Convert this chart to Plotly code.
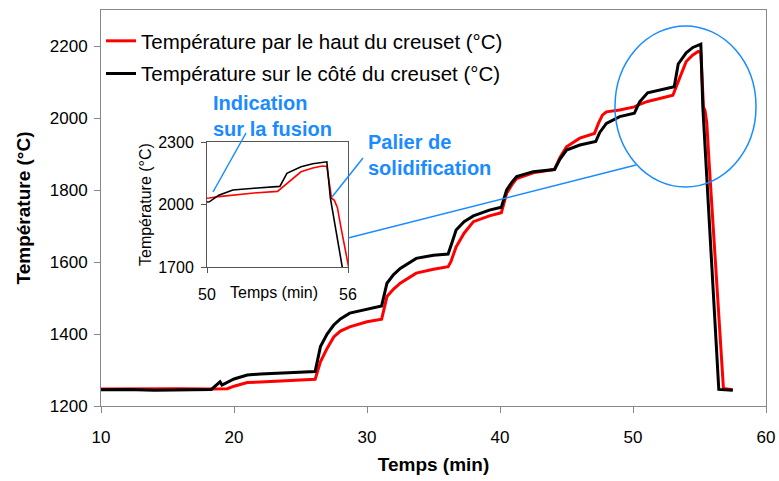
import plotly.graph_objects as go

# ---------------- data ----------------
t_haut = [10, 12, 14, 16, 18, 19.5, 20, 21, 22, 23.5, 25, 26.1, 26.5, 27, 27.5, 28, 28.7, 30, 31.1,
          31.5, 32, 32.5, 33.7, 35, 36.1, 36.3, 36.7, 37.3, 38, 39.2, 40.1, 40.5, 40.9, 41.25, 42.5,
          44.1, 44.5, 45, 46, 47.1, 47.4, 47.7, 48, 49, 50.1, 50.5, 51.1, 52, 53, 53.4, 54, 54.5,
          54.9, 55.1, 55.3, 55.42, 55.55, 55.7, 56.8, 57.5]
T_haut = [1247, 1248, 1247, 1248, 1247, 1248, 1255, 1265, 1267, 1269, 1272, 1274, 1323, 1360, 1392,
          1408, 1420, 1434, 1441, 1504, 1525, 1541, 1569, 1580, 1587, 1600, 1642, 1680, 1712, 1728,
          1737, 1791, 1815, 1832, 1848, 1857, 1890, 1920, 1944, 1957, 1985, 2008, 2017, 2022, 2031,
          2038, 2046, 2055, 2063, 2101, 2157, 2175, 2185, 2182, 2030, 2020, 1985, 1890, 1249, 1245]

t_cote = [10, 12, 14, 16, 18.3, 18.95, 19.1, 20, 21, 22, 23.5, 25, 26.1, 26.5, 27, 27.5, 28, 28.7,
          30, 31.1, 31.5, 32, 32.5, 33.7, 35, 36.1, 36.4, 36.7, 37.3, 38, 39.2, 40.1, 40.5, 40.9,
          41.25, 42.5, 44.1, 44.5, 45, 46, 47.2, 47.5, 48, 49, 50.1, 50.5, 51.1, 52, 53.1, 53.4,
          54, 54.5, 55.1, 55.25, 56.45, 57.5]
T_cote = [1245, 1246, 1244, 1245, 1246, 1267, 1258, 1275, 1286, 1289, 1292, 1294, 1296, 1365, 1400,
          1425, 1442, 1458, 1469, 1478, 1541, 1565, 1582, 1610, 1619, 1622, 1655, 1689, 1712, 1728,
          1744, 1752, 1800, 1822, 1837, 1851, 1857, 1885, 1911, 1925, 1935, 1960, 1985, 2004, 2013,
          2045, 2070, 2078, 2087, 2150, 2181, 2196, 2205, 2030, 1246, 1244]

name_haut = "Température par le haut du creuset (°C)"
name_cote = "Température sur le côté du creuset (°C)"

x_ticks = [10, 20, 30, 40, 50, 60]
y_ticks = [1200, 1400, 1600, 1800, 2000, 2200]
inset_x_ticks = [50, 56]
inset_y_ticks = [1700, 2000, 2300]

# ---------------- layout helpers ----------------
W, H = 779, 481
ML, MR, MT, MB = 101, 13, 10, 75
PW, PH = W - ML - MR, H - MT - MB


def px(x):
    return (x - ML) / PW


def py(y):
    return (H - MB - y) / PH


FONT = "Liberation Sans, Arial, sans-serif"
BLUE = "#1a8cff"
AXC = "#888888"

fig = go.Figure()

# main traces
fig.add_trace(go.Scatter(x=t_haut, y=T_haut, mode="lines", name=name_haut,
                         line=dict(color="#ff0000", width=3), legendgroup="a"))
fig.add_trace(go.Scatter(x=t_cote, y=T_cote, mode="lines", name=name_cote,
                         line=dict(color="#000000", width=3), legendgroup="b"))
# inset traces
fig.add_trace(go.Scatter(x=t_haut, y=T_haut, mode="lines", showlegend=False,
                         line=dict(color="#ff0000", width=1.6), xaxis="x2", yaxis="y2"))
fig.add_trace(go.Scatter(x=t_cote, y=T_cote, mode="lines", showlegend=False,
                         line=dict(color="#000000", width=1.6), xaxis="x2", yaxis="y2"))

fig.update_layout(
    width=W, height=H,
    margin=dict(l=ML, r=MR, t=MT, b=MB, autoexpand=False),
    paper_bgcolor="white", plot_bgcolor="white",
    font=dict(family=FONT, color="black"),
    showlegend=True,
    legend=dict(x=px(101), y=py(21), xanchor="left", yanchor="top",
                font=dict(size=20.5, family=FONT), bgcolor="rgba(0,0,0,0)",
                tracegroupgap=3, itemwidth=30),
    xaxis=dict(range=[10, 60], tickvals=x_ticks, ticks="outside", ticklen=6, tickcolor=AXC,
               showline=True, linecolor=AXC, linewidth=1, mirror=True, showgrid=False,
               zeroline=False, tickfont=dict(size=17), ticklabelstandoff=10,
               title=dict(text="<b>Temps (min)</b>", font=dict(size=19), standoff=11)),
    yaxis=dict(range=[1200, 2300], tickvals=y_ticks, ticks="outside", ticklen=6, tickcolor=AXC,
               showline=True, linecolor=AXC, linewidth=1, mirror=True, showgrid=False,
               zeroline=False, tickfont=dict(size=17), ticklabelstandoff=3,
               title=dict(text="<b>Température (°C)</b>", font=dict(size=19), standoff=14)),
    xaxis2=dict(domain=[px(207), px(348)], anchor="y2", range=[50, 56], tickvals=inset_x_ticks,
                ticks="outside", ticklen=5, tickcolor="#555", showline=True, linecolor="#555",
                mirror=True, showgrid=False, zeroline=False, tickfont=dict(size=16),
                ticklabelstandoff=8),
    yaxis2=dict(domain=[py(267), py(142)], anchor="x2", range=[1700, 2300],
                tickvals=inset_y_ticks, ticks="outside", ticklen=5, tickcolor="#555",
                showline=True, linecolor="#555", mirror=True, showgrid=False, zeroline=False,
                tickfont=dict(size=16), ticklabelstandoff=4),
)

annotations = [
    dict(text="Temps (min)", x=px(274), y=py(292), xref="paper", yref="paper",
         showarrow=False, font=dict(size=16), xanchor="center", yanchor="middle"),
    dict(text="Température (°C)", x=px(145), y=py(205), xref="paper", yref="paper",
         showarrow=False, font=dict(size=16), textangle=-90, xanchor="center", yanchor="middle"),
    dict(text="<b>Indication<br>sur la fusion</b>", x=px(211), y=py(90), xref="paper", yref="paper",
         showarrow=False, font=dict(size=20, color=BLUE), xanchor="left", yanchor="top",
         align="left"),
    dict(text="<b>Palier de<br>solidification</b>", x=px(366), y=py(129), xref="paper",
         yref="paper", showarrow=False, font=dict(size=20, color=BLUE), xanchor="left",
         yanchor="top", align="left"),
]
fig.update_layout(annotations=annotations)

shapes = [
    dict(type="circle", xref="paper", yref="paper", x0=px(615), x1=px(756), y0=py(187), y1=py(26),
         line=dict(color=BLUE, width=1.5)),
    dict(type="line", xref="paper", yref="paper", x0=px(348), y0=py(238), x1=px(636), y1=py(165),
         line=dict(color=BLUE, width=1.5)),
    dict(type="line", xref="paper", yref="paper", x0=px(246), y0=py(133), x1=px(213), y1=py(192),
         line=dict(color=BLUE, width=1.5)),
    dict(type="line", xref="paper", yref="paper", x0=px(363), y0=py(158), x1=px(332), y1=py(197),
         line=dict(color=BLUE, width=1.5)),
]
fig.update_layout(shapes=shapes)

fig.write_html("out.html", config={"displayModeBar": False},
               post_script="document.body.style.margin='0';document.body.style.overflow='hidden';")
